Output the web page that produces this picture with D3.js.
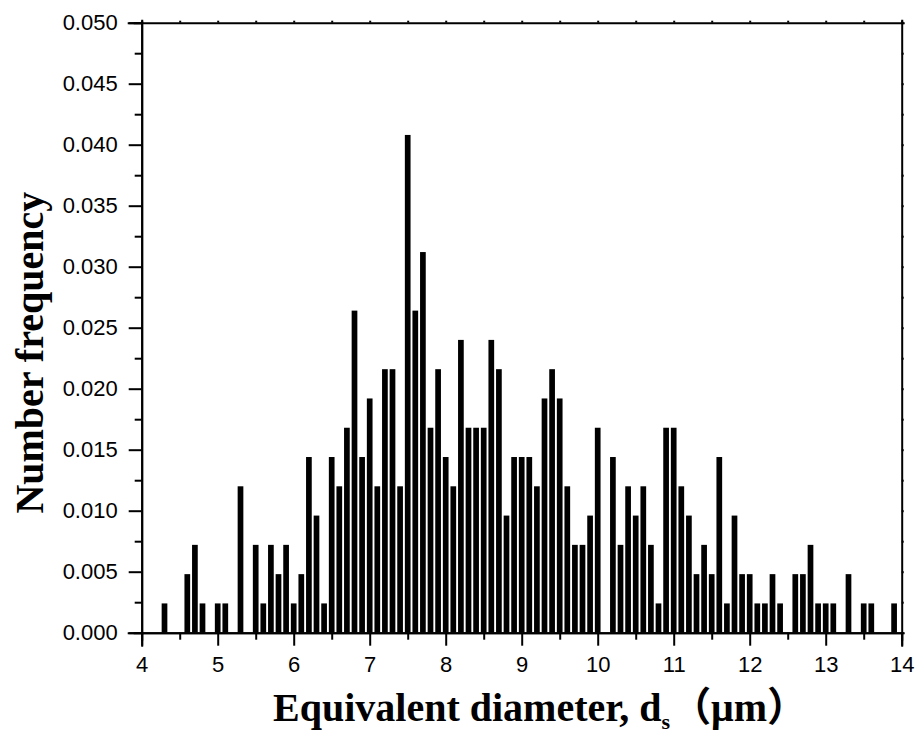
<!DOCTYPE html>
<html>
<head>
<meta charset="utf-8">
<script src="https://cdn.jsdelivr.net/npm/d3@7"></script>
<style>
  html, body { margin: 0; padding: 0; background: #fff; }
  svg { display: block; }
</style>
</head>
<body>
<div id="chart"></div>
<script>
// ---- data ----
const diameters = [
  4.3, 4.6, 4.7, 4.8, 5.0, 5.1, 5.3, 5.5, 5.6, 5.7, 5.8, 5.9, 6.0, 6.1, 6.2, 6.3, 6.4,
  6.5, 6.6, 6.7, 6.8, 6.9, 7.0, 7.1, 7.2, 7.3, 7.4,
  7.5, 7.6, 7.7, 7.8, 7.9, 8.0, 8.1, 8.2, 8.3, 8.4,
  8.5, 8.6, 8.7, 8.8, 8.9, 9.0, 9.1, 9.2, 9.3, 9.4,
  9.5, 9.6, 9.7, 9.8, 9.9, 10.0, 10.2, 10.3, 10.4, 10.5,
  10.6, 10.7, 10.8, 10.9, 11.0, 11.1, 11.2, 11.3, 11.4, 11.5,
  11.6, 11.7, 11.8, 11.9, 12.0, 12.1, 12.2, 12.3, 12.4,
  12.6, 12.7, 12.8, 12.9, 13.0, 13.1, 13.3, 13.5, 13.6, 13.9
];
const frequencies = [
  0.0024, 0.0048, 0.0072, 0.0024, 0.0024, 0.0024, 0.0120, 0.0072, 0.0024, 0.0072, 0.0048, 0.0072, 0.0024, 0.0048, 0.0144, 0.0096, 0.0024,
  0.0144, 0.0120, 0.0168, 0.0264, 0.0144, 0.0192, 0.0120, 0.0216, 0.0216, 0.0120,
  0.0408, 0.0264, 0.0312, 0.0168, 0.0216, 0.0144, 0.0120, 0.0240, 0.0168, 0.0168,
  0.0168, 0.0240, 0.0216, 0.0096, 0.0144, 0.0144, 0.0144, 0.0120, 0.0192, 0.0216,
  0.0192, 0.0120, 0.0072, 0.0072, 0.0096, 0.0168, 0.0144, 0.0072, 0.0120, 0.0096,
  0.0120, 0.0072, 0.0024, 0.0168, 0.0168, 0.0120, 0.0096, 0.0048, 0.0072, 0.0048,
  0.0144, 0.0024, 0.0096, 0.0048, 0.0048, 0.0024, 0.0024, 0.0048, 0.0024,
  0.0048, 0.0048, 0.0072, 0.0024, 0.0024, 0.0024, 0.0048, 0.0024, 0.0024, 0.0024
];
const xDomain = [4, 14];
const yDomain = [0, 0.05];
const xMajorTicks = [4, 5, 6, 7, 8, 9, 10, 11, 12, 13, 14];
const xMinorTicks = [4.5, 5.5, 6.5, 7.5, 8.5, 9.5, 10.5, 11.5, 12.5, 13.5];
const yMajorTicks = [0, 0.005, 0.01, 0.015, 0.02, 0.025, 0.03, 0.035, 0.04, 0.045, 0.05];
const yMinorTicks = [0.0025, 0.0075, 0.0125, 0.0175, 0.0225, 0.0275, 0.0325, 0.0375, 0.0425, 0.0475];
const binWidth = 0.1;
const xTitle = "Equivalent diameter, d";
const xTitleSub = "s";
const xTitleUnit = "\uff08\u03bcm\uff09";
const yTitle = "Number frequency";

// ---- layout ----
const W = 916, H = 735;
const m = { left: 141.7, right: W - 901.7, top: 22.7, bottom: H - 632.7 };

const svg = d3.select("#chart").append("svg")
  .attr("width", W).attr("height", H);

const x = d3.scaleLinear().domain(xDomain).range([m.left, W - m.right]);
const y = d3.scaleLinear().domain(yDomain).range([H - m.bottom, m.top]);

const data = diameters.map((d, i) => ({ d, f: frequencies[i] }));
const bw = (x(binWidth) - x(0)) * 0.75;

// bars
svg.append("g").selectAll("rect").data(data).join("rect")
  .attr("x", d => x(d.d) - bw / 2)
  .attr("y", d => y(d.f))
  .attr("width", bw)
  .attr("height", d => y(0) - y(d.f))
  .attr("fill", "#000");

const tickFont = "'Liberation Sans', Arial, sans-serif";

function styleAxis(g) {
  g.selectAll(".domain").attr("stroke", "#000").attr("stroke-width", 2);
  g.selectAll(".tick line").attr("stroke", "#000").attr("stroke-width", 2);
  g.selectAll(".tick text").attr("fill", "#000")
    .style("font-family", tickFont).style("font-size", "22px");
}

// bottom axis: minor then major
svg.append("g").attr("transform", `translate(0,${H - m.bottom})`)
  .call(d3.axisBottom(x).tickValues(xMinorTicks).tickSize(7).tickFormat(""))
  .call(styleAxis);
svg.append("g").attr("transform", `translate(0,${H - m.bottom})`)
  .call(d3.axisBottom(x).tickValues(xMajorTicks).tickSize(13).tickPadding(11).tickFormat(d3.format("d")))
  .call(styleAxis);

// left axis
svg.append("g").attr("transform", `translate(${m.left},0)`)
  .call(d3.axisLeft(y).tickValues(yMinorTicks).tickSize(7).tickFormat(""))
  .call(styleAxis);
svg.append("g").attr("transform", `translate(${m.left},0)`)
  .call(d3.axisLeft(y).tickValues(yMajorTicks).tickSize(13).tickPadding(11).tickFormat(d3.format(".3f")))
  .call(styleAxis);

// top axis
svg.append("g").attr("transform", `translate(0,${m.top})`)
  .call(d3.axisTop(x).tickValues(xMajorTicks.concat(xMinorTicks)).tickSize(2).tickFormat(""))
  .call(styleAxis);
// right axis
svg.append("g").attr("transform", `translate(${W - m.right},0)`)
  .call(d3.axisRight(y).tickValues(yMajorTicks.concat(yMinorTicks)).tickSize(2).tickFormat(""))
  .call(styleAxis);

svg.selectAll(".domain").attr("stroke-linecap", "square");

// titles
const titleFont = "'Liberation Serif', 'Times New Roman', 'Noto Sans CJK SC', serif";
const xt = svg.append("text")
  .attr("x", 273).attr("y", 721)
  .style("font-family", titleFont).style("font-weight", "bold").style("font-size", "40px")
  .attr("fill", "#000");
xt.append("tspan").text(xTitle);
xt.append("tspan").attr("dy", 8).style("font-size", "22px").text(xTitleSub);
xt.append("tspan").attr("dy", -8).attr("dx", 1).text(xTitleUnit);

svg.append("text")
  .attr("transform", `translate(43,${(H - m.bottom + m.top) / 2 + 25}) rotate(-90)`)
  .attr("text-anchor", "middle")
  .style("font-family", titleFont).style("font-weight", "bold").style("font-size", "40px")
  .attr("fill", "#000")
  .text(yTitle);
</script>
</body>
</html>
